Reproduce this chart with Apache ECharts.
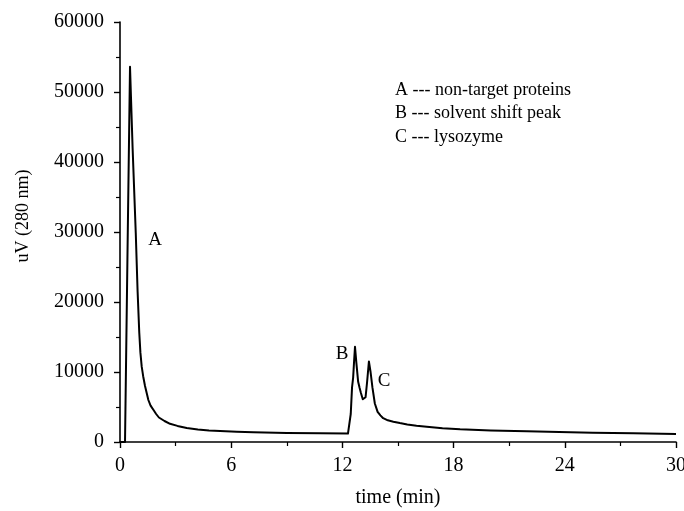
<!DOCTYPE html>
<html>
<head>
<meta charset="utf-8">
<script src="https://cdn.jsdelivr.net/npm/echarts@6/dist/echarts.min.js"></script>
<style>html,body{margin:0;padding:0;background:#fff}#c{width:684px;height:511px}</style>
</head>
<body>
<div id="c"></div>
<script>
var timeMin = [0, 0.27, 0.4, 0.54, 0.68, 0.85, 0.95, 1.04, 1.1, 1.17, 1.25, 1.35, 1.45, 1.53, 1.65, 1.8, 1.95, 2.1, 2.4, 2.7, 3.1, 3.6, 4.2, 4.8, 5.4, 6.3, 7.2, 9, 10.8, 12.3, 12.37, 12.45, 12.52, 12.58, 12.63, 12.68, 12.75, 12.85, 12.93, 13.0, 13.1, 13.17, 13.25, 13.33, 13.43, 13.52, 13.62, 13.75, 13.9, 14.05, 14.2, 14.45, 14.75, 15.1, 15.5, 16.0, 16.55, 17.4, 18.35, 20, 21.95, 23.7, 25.5, 27.7, 30];
var signal = [0, 0, 26000, 53600, 42000, 29900, 21500, 15600, 12800, 10800, 9400, 8000, 6900, 6000, 5200, 4600, 4000, 3500, 3000, 2600, 2300, 2000, 1800, 1660, 1570, 1460, 1380, 1300, 1240, 1200, 1300, 4000, 7800, 9200, 11500, 13600, 11400, 8600, 7700, 7000, 6100, 5900, 6400, 8500, 11500, 10000, 7800, 5500, 4300, 3800, 3400, 3100, 2900, 2700, 2500, 2330, 2190, 1980, 1810, 1650, 1530, 1430, 1330, 1240, 1150];
var xTicks = [0, 6, 12, 18, 24, 30];
var yTicks = [0, 10000, 20000, 30000, 40000, 50000, 60000];
var peakLabels = ['A', 'B', 'C'];
var legendLines = ['A --- non-target proteins', 'B --- solvent shift peak', 'C --- lysozyme'];

var font = '"Liberation Serif","Times New Roman",serif';
var data = timeMin.map(function (t, i) { return [t, signal[i]]; });
var chart = echarts.init(document.getElementById('c'));
var axisCommon = {
  axisLine: { show: true, lineStyle: { color: '#000', width: 1.6 } },
  axisTick: { show: true, inside: false, length: 6, lineStyle: { color: '#000', width: 1.4 } },
  minorTick: { show: true, splitNumber: 2, length: 4, lineStyle: { color: '#000', width: 1.2 } },
  splitLine: { show: false },
  nameTextStyle: { color: '#000', fontFamily: font, fontSize: 20 },
  nameLocation: 'middle'
};
var labelPos = [[155, 240], [342, 354], [384, 381]];
var legendY = [90, 113, 137];
var graphics = [];
peakLabels.forEach(function (s, i) {
  graphics.push({ type: 'text', x: labelPos[i][0], y: labelPos[i][1],
    style: { text: s, fill: '#000', font: '19px ' + font, align: 'center', verticalAlign: 'middle' } });
});
legendLines.forEach(function (s, i) {
  graphics.push({ type: 'text', x: 395, y: legendY[i],
    style: { text: s, fill: '#000', font: '18px ' + font, align: 'left', verticalAlign: 'middle' } });
});
graphics.push({ type: 'text', x: 23, y: 216, rotation: Math.PI / 2,
  style: { text: 'uV (280 nm)', fill: '#000', font: '18px ' + font, align: 'center', verticalAlign: 'middle' } });
chart.setOption({
  animation: false,
  backgroundColor: '#fff',
  grid: { left: 120, right: 8, top: 22, bottom: 69, outerBoundsMode: 'none', containLabel: false },
  xAxis: Object.assign({}, axisCommon, {
    type: 'value', min: 0, max: 30, interval: 6, name: 'time (min)', nameGap: 46,
    axisLabel: { color: '#000', fontFamily: font, fontSize: 20, margin: 14,
      formatter: function (v) { return xTicks.indexOf(v) >= 0 ? String(v) : ''; } }
  }),
  yAxis: Object.assign({}, axisCommon, {
    type: 'value', min: 0, max: 60000, interval: 10000,
    axisLabel: { color: '#000', fontFamily: font, fontSize: 20, margin: 16,
      formatter: function (v) { return yTicks.indexOf(v) >= 0 ? String(v) : ''; } }
  }),
  series: [{
    type: 'line', data: data, showSymbol: false, symbol: 'none', smooth: false,
    lineStyle: { color: '#000', width: 2, join: 'round' }
  }],
  graphic: graphics
});
</script>
</body>
</html>
